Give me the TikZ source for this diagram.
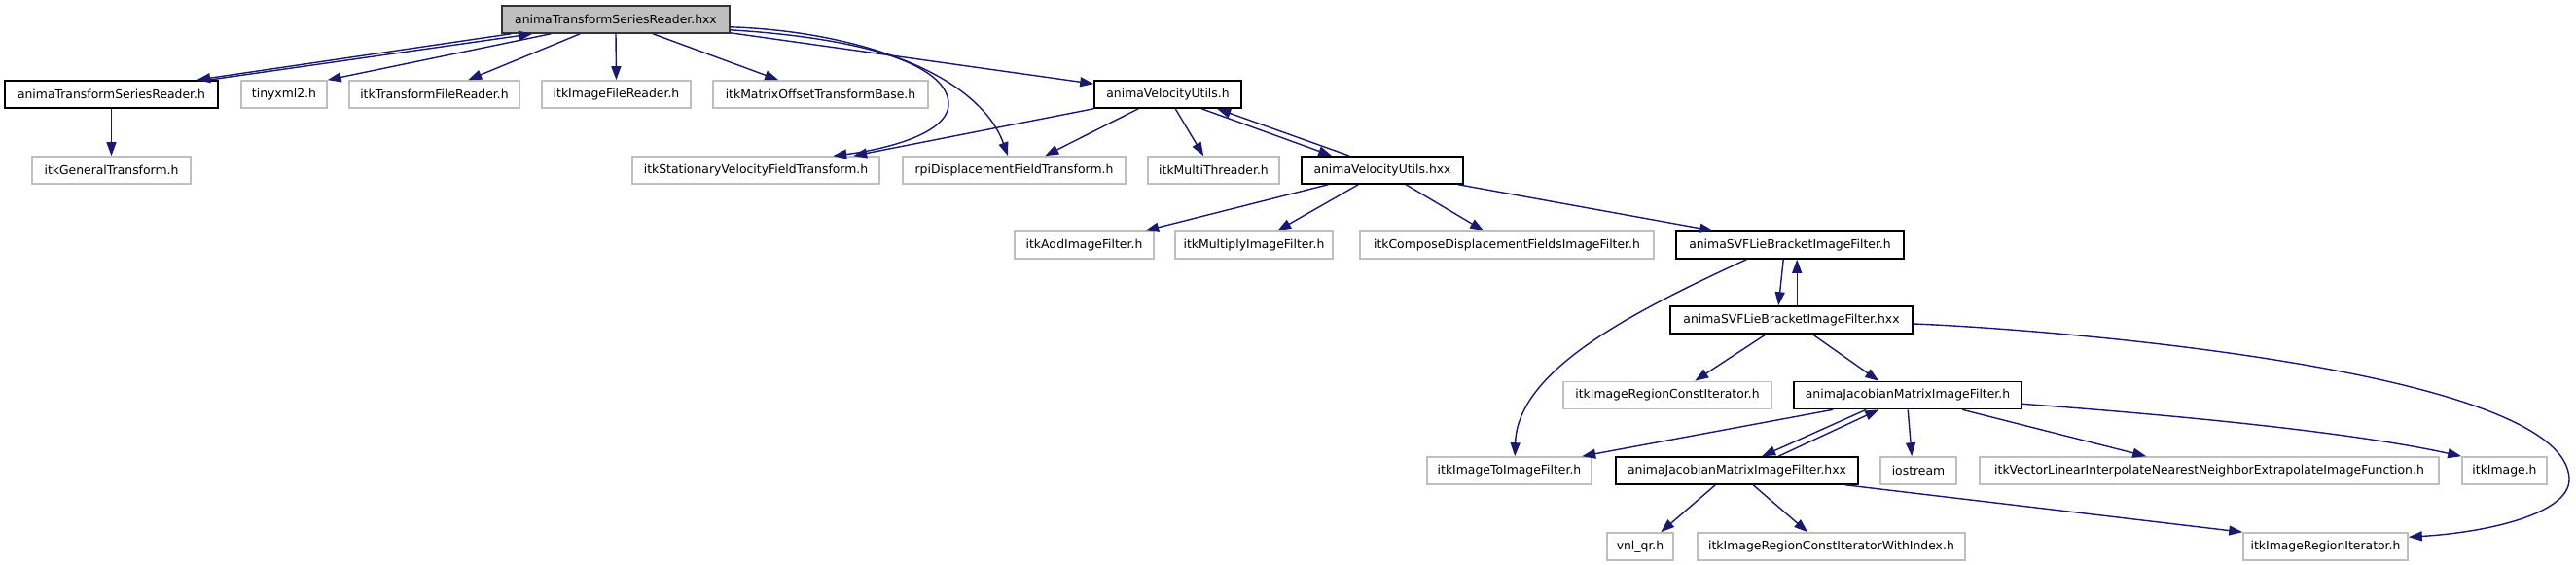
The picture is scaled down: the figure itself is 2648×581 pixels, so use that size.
\documentclass[tikz,border=0pt]{standalone}
\usepackage{fontspec}
\setmainfont{DejaVu Sans}
\usetikzlibrary{arrows.meta}
\definecolor{edgeblue}{HTML}{191970}
\definecolor{boxgray}{HTML}{BFBFBF}
\begin{document}
\begin{tikzpicture}[x=1pt,y=-1pt,
  box/.style={rectangle, inner sep=0pt, minimum height=28pt, font=\fontsize{12.4}{14}\selectfont, line width=1.6pt},
  gbox/.style={box, draw=boxgray},
  bbox/.style={box, draw=black},
  rbox/.style={box, draw=black!80, fill=boxgray},
  edge/.style={draw=edgeblue, line width=1.4pt, -{Triangle[length=14pt,width=10pt]}}
]
\useasboundingbox (0,0) rectangle (2648,581);
% nodes
\node[rbox, minimum width=234pt] (root) at (633,20) {animaTransformSeriesReader.hxx};
\node[bbox, minimum width=219pt] (atsrh) at (114.5,97) {animaTransformSeriesReader.h};
\node[gbox, minimum width=88pt] (tiny) at (292,97) {tinyxml2.h};
\node[gbox, minimum width=175pt] (tfr) at (446.5,97) {itkTransformFileReader.h};
\node[gbox, minimum width=153pt] (ifr) at (633.5,97) {itkImageFileReader.h};
\node[gbox, minimum width=221pt] (motb) at (843.5,97) {itkMatrixOffsetTransformBase.h};
\node[bbox, minimum width=151pt] (avuh) at (1200.5,97) {animaVelocityUtils.h};
\node[gbox, minimum width=163pt] (gt) at (114.5,175) {itkGeneralTransform.h};
\node[gbox, minimum width=254pt] (svft) at (777,175) {itkStationaryVelocityFieldTransform.h};
\node[gbox, minimum width=229pt] (rpi) at (1042.5,175) {rpiDisplacementFieldTransform.h};
\node[gbox, minimum width=135pt] (mt) at (1247.5,175) {itkMultiThreader.h};
\node[bbox, minimum width=166pt] (avuhxx) at (1421,175) {animaVelocityUtils.hxx};
\node[gbox, minimum width=143pt] (add) at (1114.5,252) {itkAddImageFilter.h};
\node[gbox, minimum width=162pt] (mul) at (1289,252) {itkMultiplyImageFilter.h};
\node[gbox, minimum width=302pt] (comp) at (1549,252) {itkComposeDisplacementFieldsImageFilter.h};
\node[bbox, minimum width=234pt] (svfh) at (1840,252) {animaSVFLieBracketImageFilter.h};
\node[bbox, minimum width=249pt] (svfhxx) at (1841.5,329) {animaSVFLieBracketImageFilter.hxx};
\node[gbox, minimum width=214pt] (irci) at (1714,406.5) {itkImageRegionConstIterator.h};
\node[bbox, minimum width=234pt] (jach) at (1961,406.5) {animaJacobianMatrixImageFilter.h};
\node[gbox, minimum width=169pt] (i2i) at (1551.5,484) {itkImageToImageFilter.h};
\node[bbox, minimum width=249pt] (jachxx) at (1785.5,484) {animaJacobianMatrixImageFilter.hxx};
\node[gbox, minimum width=78pt] (ios) at (1972,484) {iostream};
\node[gbox, minimum width=472pt] (vl) at (2271,484) {itkVectorLinearInterpolateNearestNeighborExtrapolateImageFunction.h};
\node[gbox, minimum width=87pt] (img) at (2574.5,484) {itkImage.h};
\node[gbox, minimum width=68pt] (vnl) at (1686,562) {vnl\_qr.h};
\node[gbox, minimum width=275pt] (irciwi) at (1882.5,562) {itkImageRegionConstIteratorWithIndex.h};
\node[gbox, minimum width=169pt] (iri) at (2390.5,562) {itkImageRegionIterator.h};
% edges from root
\draw[edge] ([xshift=10pt]root.south west) -- ([xshift=198pt]atsrh.north west);
\draw[edge] ([xshift=210pt]atsrh.north west) -- ([xshift=32pt]root.south west);
\draw[edge] ([xshift=51pt]root.south west) -- (tiny.north east);
\draw[edge] ([xshift=81pt]root.south west) -- ([xshift=123pt]tfr.north west);
\draw[edge] (root.south) -- (ifr.north);
\draw[edge] ([xshift=156pt]root.south west) -- ([xshift=68pt]motb.north west);
\draw[edge] ([yshift=1pt]root.south east) -- ([yshift=-4pt]avuh.north west);
\draw[edge] ([yshift=4pt]root.south east) .. controls (900,40) and (975,70) .. (975,107)
  .. controls (975,140) and (900,155) .. ([xshift=207pt]svft.north west);
\draw[edge] ([yshift=7pt]root.south east) .. controls (880,32) and (1005,75) .. ([xshift=109pt]rpi.north west);
\draw[edge] (atsrh.south) -- (gt.north);
% animaVelocityUtils.h
\draw[edge] (avuh.south west) -- ([xshift=228pt]svft.north west);
\draw[edge] ([xshift=46pt]avuh.south west) -- ([xshift=147pt]rpi.north west);
\draw[edge] ([xshift=84pt]avuh.south west) -- ([xshift=58pt]mt.north west);
\draw[edge] ([xshift=111pt]avuh.south west) -- ([xshift=32pt]avuhxx.north west);
\draw[edge] ([xshift=50pt]avuhxx.north west) -- ([xshift=127pt]avuh.south west);
% animaVelocityUtils.hxx
\draw[edge] ([xshift=28pt]avuhxx.south west) -- ([xshift=135pt]add.north west);
\draw[edge] ([xshift=59pt]avuhxx.south west) -- ([xshift=106pt]mul.north west);
\draw[edge] ([xshift=108pt]avuhxx.south west) -- ([xshift=128pt]comp.north west);
\draw[edge] ([xshift=162pt]avuhxx.south west) -- ([xshift=39pt]svfh.north west);
% SVF Lie bracket
\draw[edge] ([xshift=111pt]svfh.south west) -- ([xshift=112pt]svfhxx.north west);
\draw[edge] ([xshift=131pt]svfhxx.north west) -- ([xshift=125pt]svfh.south west);
\draw[edge] ([xshift=73pt]svfh.south west) .. controls (1680,320) and (1560,380) .. ([xshift=91pt]i2i.north west);
\draw[edge] ([xshift=99pt]svfhxx.south west) -- ([xshift=136pt]irci.north west);
\draw[edge] ([xshift=147pt]svfhxx.south west) -- ([xshift=88pt]jach.north west);
\draw[edge] ([yshift=-4pt]svfhxx.east) .. controls (2100,338) and (2640,380) .. (2641,493)
  .. controls (2641,530) and (2550,548) .. ([yshift=-5pt]iri.north east);
% Jacobian .h
\draw[edge] ([xshift=41pt]jach.south west) -- ([xshift=160pt]i2i.north west);
\draw[edge] ([xshift=75pt]jach.south west) -- ([xshift=151pt]jachxx.north west);
\draw[edge] ([xshift=168pt]jachxx.north west) -- ([xshift=88pt]jach.south west);
\draw[edge] ([xshift=118pt]jach.south west) -- ([xshift=33pt]ios.north west);
\draw[edge] ([xshift=174pt]jach.south west) -- ([xshift=172pt]vl.north west);
\draw[edge] ([yshift=6pt]jach.south east) .. controls (2250,428) and (2420,445) .. (img.north west);
% Jacobian .hxx
\draw[edge] ([xshift=103pt]jachxx.south west) -- ([xshift=56pt]vnl.north west);
\draw[edge] ([xshift=142pt]jachxx.south west) -- ([xshift=114pt]irciwi.north west);
\draw[edge] ([xshift=237pt]jachxx.south west) -- (iri.north west);
\end{tikzpicture}
\end{document}
